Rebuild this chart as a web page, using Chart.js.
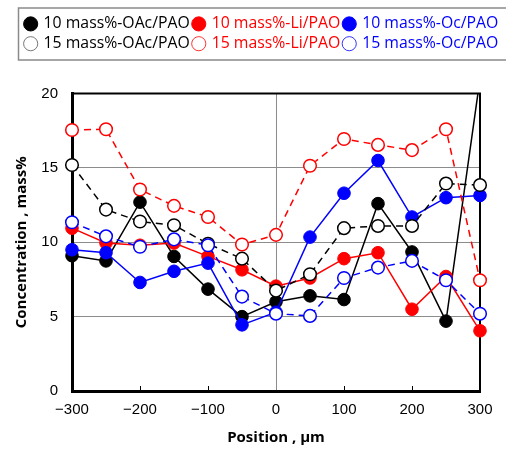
<!DOCTYPE html>
<html>
<head>
<meta charset="utf-8">
<script src="https://cdn.jsdelivr.net/npm/chart.js@4.4.0/dist/chart.umd.min.js"></script>
<style>
  html, body { margin: 0; padding: 0; background: #fff; }
</style>
</head>
<body>
<canvas id="concChart" width="506" height="450"></canvas>
<script>
// Data
const positions = [-300, -250, -200, -150, -100, -50, 0, 50, 100, 150, 200, 250, 300];
const oac10 = [9.1, 8.75, 12.7, 9.05, 6.85, 5.0, 6.0, 6.4, 6.15, 12.6, 9.35, 4.7, 21.0];
const li10 = [10.95, 9.95, 9.8, 9.95, 9.05, 8.15, 7.05, 7.6, 8.9, 9.3, 5.5, 7.7, 4.05];
const oc10 = [9.5, 9.3, 7.3, 8.05, 8.6, 4.45, 5.3, 10.35, 13.3, 15.5, 11.7, 13.0, 13.15];
const oac15 = [15.2, 12.2, 11.4, 11.15, 9.9, 8.9, 6.75, 7.85, 10.95, 11.1, 11.1, 13.95, 13.85];
const li15 = [17.55, 17.6, 13.55, 12.45, 11.7, 9.85, 10.5, 15.15, 16.95, 16.55, 16.2, 17.6, 7.45];
const oc15 = [11.35, 10.4, 9.7, 10.2, 9.8, 6.35, 5.2, 5.05, 7.6, 8.3, 8.75, 7.45, 5.2];
const yTicks = [0, 5, 10, 15, 20];
const xTicks = [-300, -200, -100, 0, 100, 200, 300];

const toPoints = (vals) => positions.map((x, i) => ({ x: x, y: vals[i] }));

function series(label, vals, color, open, idx) {
  return {
    label: label,
    data: toPoints(vals),
    borderColor: color,
    backgroundColor: open ? '#ffffff' : color,
    borderWidth: 1.5,
    borderDash: open ? [7, 5] : [],
    pointRadius: 6.3,
    pointHoverRadius: 6.3,
    pointBackgroundColor: open ? '#ffffff' : color,
    pointBorderColor: color,
    pointBorderWidth: open ? 1.5 : 1,
    tension: 0,
    order: 10 - idx,
    clip: idx === 0 ? { left: 12, right: 12, top: 0, bottom: 12 } : false,
  };
}

// Frame on top / right, inward ticks, legend box
const framePlugin = {
  id: 'frame',
  beforeDatasetsDraw(chart) {
    const { ctx, chartArea: a } = chart;
    const xs = chart.scales.x;
    ctx.save();
    ctx.strokeStyle = '#000';
    ctx.lineWidth = 1;
    xs.ticks.forEach((t) => {
      if (t.value === 0 || Math.abs(t.value) === 300) return;
      const px = Math.round(xs.getPixelForValue(t.value)) + 0.5;
      ctx.beginPath();
      ctx.moveTo(px, a.bottom);
      ctx.lineTo(px, a.bottom - 5);
      ctx.stroke();
    });
    ctx.lineWidth = 2;
    ctx.beginPath();
    ctx.moveTo(a.left, a.top);
    ctx.lineTo(a.right, a.top);
    ctx.lineTo(a.right, a.bottom);
    ctx.stroke();
    ctx.restore();
  },
  afterDraw(chart) {
    const lg = chart.legend;
    if (!lg) return;
    const ctx = chart.ctx;
    ctx.save();
    ctx.strokeStyle = '#8a8a8a';
    ctx.lineWidth = 1.5;
    ctx.strokeRect(lg.left + 0.5, lg.top - 4, lg.width + 20, 52);
    ctx.restore();
  },
};

const ctx = document.getElementById('concChart');
new Chart(ctx, {
  type: 'line',
  data: {
    datasets: [
      series('10 mass%-OAc/PAO', oac10, '#000000', false, 0),
      series('10 mass%-Li/PAO', li10, '#ff0000', false, 1),
      series('10 mass%-Oc/PAO', oc10, '#0000ff', false, 2),
      series('15 mass%-OAc/PAO', oac15, '#000000', true, 3),
      series('15 mass%-Li/PAO', li15, '#ff0000', true, 4),
      series('15 mass%-Oc/PAO', oc15, '#0000ff', true, 5),
    ],
  },
  options: {
    responsive: false,
    animation: false,
    layout: { padding: { top: 12, left: 18, right: 0, bottom: 0 } },
    plugins: {
      tooltip: { enabled: false },
      legend: {
        position: 'top',
        align: 'center',
        labels: {
          usePointStyle: true,
          boxWidth: 10,
          boxHeight: 10,
          padding: 4,
          font: { family: 'Open Sans', size: 15.8 },
          generateLabels(chart) {
            return chart.data.datasets.map((ds, i) => ({
              text: ds.label,
              fillStyle: ds.pointBackgroundColor,
              strokeStyle: i < 3 ? ds.pointBorderColor : (ds.pointBorderColor === '#000000' ? '#555' : ds.pointBorderColor),
              lineWidth: i < 3 ? 1 : 0.8,
              pointStyle: 'circle',
              fontColor: ds.borderColor,
              hidden: false,
              datasetIndex: i,
            }));
          },
        },
      },
    },
    scales: {
      x: {
        type: 'linear',
        min: -300,
        max: 300,
        afterBuildTicks(s) { s.ticks = xTicks.map((v) => ({ value: v })); },
        afterFit(s) { s.height = 59; },
        ticks: {
          color: '#000',
          padding: 10,
          font: { family: 'Liberation Sans', size: 15 },
          callback: (v) => String(v).replace('-', '\u2212'),
        },
        grid: {
          drawTicks: false,
          color: (c) => (c.tick && c.tick.value === 0 ? '#8c8c8c' : 'rgba(0,0,0,0)'),
          lineWidth: 1,
        },
        border: { display: true, color: '#000', width: 3 },
        title: {
          display: true,
          text: 'Position , \u00b5m',
          color: '#000',
          padding: { top: 0, bottom: 3 },
          font: { family: 'Open Sans', size: 15, weight: 'bold' },
        },
      },
      x2: {
        type: 'linear',
        position: 'top',
        display: true,
        afterFit(s) { s.height = 32; },
        ticks: { display: false },
        grid: { display: false },
        border: { display: false },
      },
      y: {
        min: 0,
        max: 20,
        afterBuildTicks(s) { s.ticks = yTicks.map((v) => ({ value: v })); },
        afterFit(s) { s.width = 54; },
        ticks: {
          color: '#000',
          padding: 14,
          font: { family: 'Liberation Sans', size: 15 },
        },
        grid: {
          drawTicks: false,
          color: (c) => (c.tick && c.tick.value > 0 && c.tick.value < 20 ? '#8c8c8c' : 'rgba(0,0,0,0)'),
          lineWidth: 1,
        },
        border: { display: true, color: '#000', width: 3 },
        title: {
          display: true,
          text: 'Concentration , mass%',
          color: '#000',
          padding: { top: -5, bottom: 0 },
          font: { family: 'Open Sans', size: 15, weight: 'bold' },
        },
      },
      y2: {
        type: 'linear',
        position: 'right',
        display: true,
        afterFit(s) { s.width = 26; },
        ticks: { display: false },
        grid: { display: false },
        border: { display: false },
      },
    },
  },
  plugins: [framePlugin],
});
</script>
</body>
</html>
